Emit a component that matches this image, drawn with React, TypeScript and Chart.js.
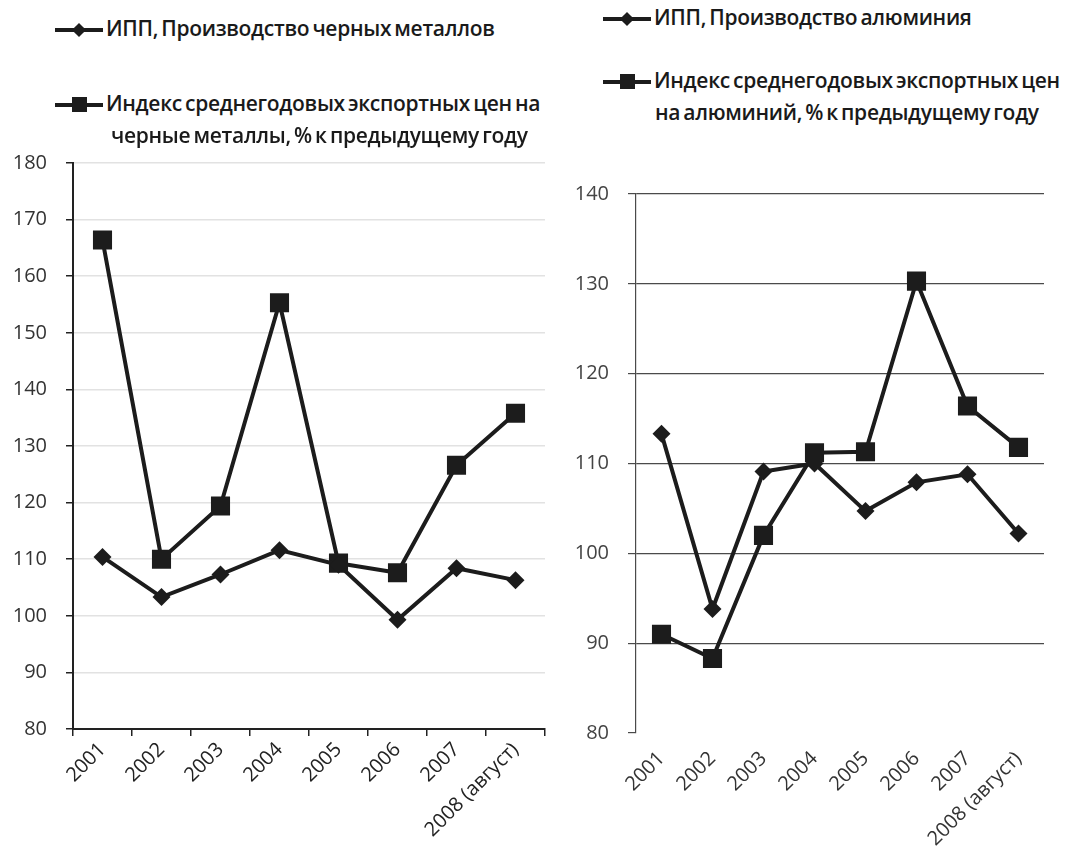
import React, { useEffect, useRef } from "react";
import { Chart, registerables } from "chart.js";

Chart.register(...registerables);

const years = ["2001", "2002", "2003", "2004", "2005", "2006", "2007", "2008 (август)"];
const steelIpp = [110.4, 103.3, 107.3, 111.6, 109.0, 99.3, 108.4, 106.3];
const steelPrice = [166.4, 110.0, 119.4, 155.3, 109.3, 107.6, 126.6, 135.8];
const aluIpp = [113.3, 93.8, 109.1, 110.0, 104.7, 107.9, 108.8, 102.2];
const aluPrice = [91.0, 88.3, 102.0, 111.2, 111.3, 130.3, 116.4, 111.8];

const steelLegend1 = "ИПП, Производство черных металлов";
const steelLegend2a = "Индекс среднегодовых экспортных цен на";
const steelLegend2b = "черные металлы, % к предыдущему году";
const aluLegend1 = "ИПП, Производство алюминия";
const aluLegend2a = "Индекс среднегодовых экспортных цен";
const aluLegend2b = "на алюминий, % к предыдущему году";

const FONT = "'Open Sans', 'DejaVu Sans', sans-serif";
const INK = "#1c1c1c";
const PAGE_H = 861;

function makeDatasets(ipp: number[], price: number[]) {
  return [
    {
      label: "ipp",
      data: ipp,
      borderColor: INK,
      backgroundColor: INK,
      borderWidth: 4,
      pointStyle: "rectRot" as const,
      pointRadius: 9,
      pointBorderWidth: 0,
      tension: 0,
    },
    {
      label: "price",
      data: price,
      borderColor: INK,
      backgroundColor: INK,
      borderWidth: 4,
      pointStyle: "rect" as const,
      pointRadius: 13.5,
      pointBorderWidth: 0,
      tension: 0,
    },
  ];
}

// left chart frame (page coords)
const L = { left: 0, width: 560, canvasTop: 125, plotTop: 163, plotBottom: 729, axisX: 73, plotRight: 545 };
// right chart frame (page coords)
const R = { left: 560, width: 507, canvasTop: 155, plotTop: 194, plotBottom: 733, axisX: 636, plotRight: 1044 };

function LeftChart() {
  const ref = useRef<HTMLCanvasElement>(null);
  const H = PAGE_H - L.canvasTop;
  useEffect(() => {
    const padTop = L.plotTop - L.canvasTop;
    const xH = PAGE_H - L.plotBottom;
    const c = new Chart(ref.current!, {
      type: "line",
      data: { labels: years, datasets: makeDatasets(steelIpp, steelPrice) as any },
      options: {
        animation: false,
        responsive: false,
        devicePixelRatio: 1,
        layout: { padding: { top: padTop, right: L.left + L.width - L.plotRight, bottom: 0, left: 0 } },
        plugins: { legend: { display: false }, tooltip: { enabled: false } },
        scales: {
          x: {
            offset: true,
            grid: { display: true, drawOnChartArea: false, drawTicks: true, tickLength: 7, tickColor: "#222", offset: true, lineWidth: 1.5 },
            border: { display: true, color: "#222", width: 2 },
            ticks: { minRotation: 45, maxRotation: 45, autoSkip: false, color: "#222", font: { family: FONT, size: 20 }, padding: 2 },
            afterFit: (s: any) => { s.height = xH; },
          },
          y: {
            min: 80,
            max: 180,
            ticks: { stepSize: 10, color: "#333", font: { family: FONT, size: 20 }, padding: 19 },
            grid: { color: "#e2e2e2", lineWidth: 1.5, tickColor: "#222", tickLength: 7 },
            border: { display: true, color: "#222", width: 2 },
            afterFit: (s: any) => { s.width = L.axisX - L.left; },
          },
        },
      },
    });
    return () => c.destroy();
  }, []);
  return <canvas ref={ref} width={L.width} height={H} style={{ position: "absolute", left: L.left, top: L.canvasTop }} />;
}

function RightChart() {
  const ref = useRef<HTMLCanvasElement>(null);
  const H = PAGE_H - R.canvasTop;
  useEffect(() => {
    const padTop = R.plotTop - R.canvasTop;
    const xH = PAGE_H - R.plotBottom;
    const c = new Chart(ref.current!, {
      type: "line",
      data: { labels: years, datasets: makeDatasets(aluIpp, aluPrice) as any },
      options: {
        animation: false,
        responsive: false,
        devicePixelRatio: 1,
        layout: { padding: { top: padTop, right: R.left + R.width - R.plotRight, bottom: 0, left: 0 } },
        plugins: { legend: { display: false }, tooltip: { enabled: false } },
        scales: {
          x: {
            offset: true,
            grid: { display: false },
            border: { display: false },
            ticks: { minRotation: 45, maxRotation: 45, autoSkip: false, color: "#333", font: { family: FONT, size: 20 }, padding: 6 },
            afterFit: (s: any) => { s.height = xH; },
          },
          y: {
            min: 80,
            max: 140,
            ticks: { stepSize: 10, color: "#444", font: { family: FONT, size: 20 }, padding: 19 },
            grid: {
              color: (ctx: any) => (ctx.tick && ctx.tick.value === 80 ? "rgba(0,0,0,0)" : "#4a4a4a"),
              lineWidth: 1.2,
              tickColor: "#4a4a4a",
              tickLength: 8,
            },
            border: { display: true, color: "#4a4a4a", width: 1.2 },
            afterFit: (s: any) => { s.width = R.axisX - R.left; },
          },
        },
      },
    });
    return () => c.destroy();
  }, []);
  return <canvas ref={ref} width={R.width} height={H} style={{ position: "absolute", left: R.left, top: R.canvasTop }} />;
}

function Marker({ kind }: { kind: "diamond" | "square" }) {
  return (
    <span style={{ position: "relative", display: "inline-block", width: 48, height: 16, verticalAlign: "middle", marginRight: 3 }}>
      <span style={{ position: "absolute", left: 0, top: 6, width: 48, height: 4, background: INK }} />
      {kind === "diamond" ? (
        <span style={{ position: "absolute", left: 19, top: 3, width: 10, height: 10, background: INK, transform: "rotate(45deg)" }} />
      ) : (
        <span style={{ position: "absolute", left: 17, top: 0, width: 15, height: 15, background: INK }} />
      )}
    </span>
  );
}

const legendText: React.CSSProperties = {
  fontFamily: FONT,
  fontWeight: 600,
  fontSize: 21,
  color: "#1a1a1a",
  whiteSpace: "nowrap",
  lineHeight: "32px",
  letterSpacing: "-0.3px",
  wordSpacing: "-2px",
};

export default function App() {
  useEffect(() => {
    document.body.style.margin = "0";
  }, []);
  return (
    <div style={{ position: "relative", width: 1067, height: PAGE_H, background: "#fff", overflow: "hidden" }}>
      <LeftChart />
      <RightChart />
      <div style={{ position: "absolute", left: 55, top: 12, ...legendText }}>
        <Marker kind="diamond" />
        <span>{steelLegend1}</span>
      </div>
      <div style={{ position: "absolute", left: 55, top: 87, ...legendText }}>
        <Marker kind="square" />
        <span>{steelLegend2a}</span>
      </div>
      <div style={{ position: "absolute", left: 111, top: 119, ...legendText }}>
        <span>{steelLegend2b}</span>
      </div>
      <div style={{ position: "absolute", left: 603, top: 1, ...legendText }}>
        <Marker kind="diamond" />
        <span>{aluLegend1}</span>
      </div>
      <div style={{ position: "absolute", left: 603, top: 64, ...legendText }}>
        <Marker kind="square" />
        <span>{aluLegend2a}</span>
      </div>
      <div style={{ position: "absolute", left: 655, top: 96, ...legendText }}>
        <span>{aluLegend2b}</span>
      </div>
    </div>
  );
}
